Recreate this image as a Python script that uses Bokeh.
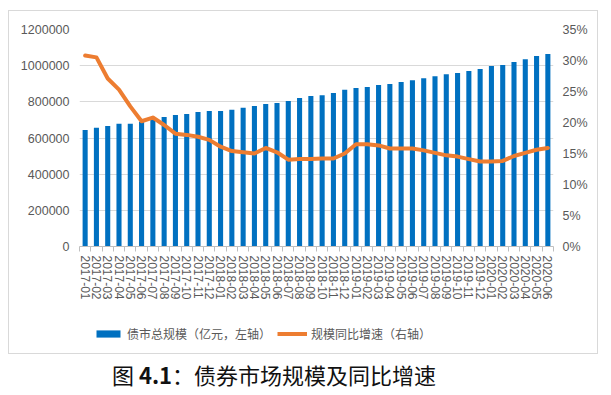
import numpy as np
from bokeh.plotting import figure
from bokeh.models import (Range1d, LinearAxis, FixedTicker, PrintfTickFormatter,
                          Legend, LegendItem, Div, ColumnDataSource)
from bokeh.layouts import column
from bokeh.embed import file_html
from bokeh.resources import INLINE

months = ["2017-01", "2017-02", "2017-03", "2017-04", "2017-05", "2017-06", "2017-07",
          "2017-08", "2017-09", "2017-10", "2017-11", "2017-12",
          "2018-01", "2018-02", "2018-03", "2018-04", "2018-05", "2018-06", "2018-07",
          "2018-08", "2018-09", "2018-10", "2018-11", "2018-12",
          "2019-01", "2019-02", "2019-03", "2019-04", "2019-05", "2019-06", "2019-07",
          "2019-08", "2019-09", "2019-10", "2019-11", "2019-12",
          "2020-01", "2020-02", "2020-03", "2020-04", "2020-05", "2020-06"]

bond_scale = [644000, 657000, 666000, 679000, 679000, 690000, 702000, 716000, 727000, 733000,
              744000, 749000, 749000, 756000, 767000, 777000, 788000, 793000, 804000, 821000,
              832000, 837000, 849000, 867000, 876000, 882000, 893000, 898000, 909000, 920000,
              931000, 942000, 953000, 959000, 970000, 981000, 998000, 1003000, 1020000, 1036000,
              1053000, 1064000]

growth_pct = [30.8, 30.5, 27.1, 25.3, 22.6, 20.2, 20.8, 19.6, 18.2, 18.0,
              17.7, 17.2, 16.1, 15.4, 15.2, 15.0, 15.9, 15.2, 14.0, 14.1,
              14.1, 14.2, 14.2, 15.0, 16.5, 16.5, 16.3, 15.8, 15.8, 15.8,
              15.5, 15.1, 14.7, 14.5, 14.1, 13.7, 13.7, 13.8, 14.6, 15.1,
              15.6, 15.9]

left_ticks = [0, 200000, 400000, 600000, 800000, 1000000, 1200000]
right_ticks = [0, 5, 10, 15, 20, 25, 30, 35]

bar_label = "债市总规模（亿元，左轴）"
line_label = "规模同比增速（右轴）"
caption = "图 <b>4.1</b>：债券市场规模及同比增速"

xs = list(range(len(months)))
src = ColumnDataSource(dict(x=xs, scale=bond_scale, growth=growth_pct))

TXT = "#595959"
GRID = "#d9d9d9"
NUMFONT = "Liberation Sans"
BAR_COLOR = "#0070C0"
LINE_COLOR = "#ED7D31"

p = figure(width=588, height=299, output_backend="svg", toolbar_location=None,
           x_range=Range1d(-0.5, len(months) - 0.5), y_range=Range1d(0, 1200000),
           min_border_left=70, min_border_right=44, min_border_top=18, min_border_bottom=64)
p.outline_line_color = None
p.extra_y_ranges = {"pct": Range1d(0, 35)}

# x axis
xa = p.xaxis[0]
xa.ticker = FixedTicker(ticks=xs, minor_ticks=[i - 0.5 for i in range(len(months) + 1)])
xa.major_label_overrides = {i: m for i, m in enumerate(months)}
xa.major_label_orientation = "vertical"
xa.major_tick_line_color = None
xa.major_tick_out = 2
xa.major_tick_in = 0
xa.minor_tick_out = 5
xa.minor_tick_in = 0
xa.minor_tick_line_color = "#bfbfbf"
xa.axis_line_color = "#bfbfbf"
xa.major_label_text_color = TXT
xa.major_label_text_font = NUMFONT
xa.major_label_text_font_size = "12px"
xa.major_label_standoff = 4

# left axis
ya = p.yaxis[0]
ya.ticker = FixedTicker(ticks=left_ticks)
ya.formatter = PrintfTickFormatter(format="%d")
ya.axis_line_color = None
ya.major_tick_line_color = None
ya.minor_tick_line_color = None
ya.major_tick_out = 0
ya.major_label_standoff = 10
ya.major_label_text_color = TXT
ya.major_label_text_font = NUMFONT
ya.major_label_text_font_size = "12.5px"

# right axis
ra = LinearAxis(y_range_name="pct", ticker=FixedTicker(ticks=right_ticks),
                formatter=PrintfTickFormatter(format="%d%%"))
ra.axis_line_color = None
ra.major_tick_line_color = None
ra.minor_tick_line_color = None
ra.major_tick_out = 0
ra.major_label_standoff = 9
ra.major_label_text_color = TXT
ra.major_label_text_font = NUMFONT
ra.major_label_text_font_size = "12.5px"
p.add_layout(ra, "right")

p.xgrid.visible = False
p.ygrid.grid_line_color = GRID
p.ygrid.grid_line_width = 1

p.vbar(x="x", top="scale", width=0.45, fill_color=BAR_COLOR, line_color=None, source=src)
p.line(x="x", y="growth", y_range_name="pct", line_color=LINE_COLOR, line_width=4,
       line_join="round", line_cap="round", source=src)

# legend strip (separate small figure so the legend is not clipped by the chart frame);
# its stand-in renderers hold a single NaN so they draw nothing but still give swatches
lf = figure(width=588, height=43, output_backend="svg", toolbar_location=None,
            x_range=Range1d(0, 1), y_range=Range1d(0, 1),
            min_border=0, x_axis_type=None, y_axis_type=None)
lf.outline_line_color = None
lf.xgrid.visible = False
lf.ygrid.visible = False
blank = ColumnDataSource(dict(x=np.array([np.nan]), top=np.array([np.nan]), y=np.array([np.nan])))
lb = lf.vbar(x="x", top="top", width=0.45, fill_color=BAR_COLOR, line_color=None, source=blank)
ll = lf.line(x="x", y="y", line_color=LINE_COLOR, line_width=4, source=blank)
legend = Legend(items=[LegendItem(label=bar_label, renderers=[lb]),
                       LegendItem(label=line_label, renderers=[ll])],
                orientation="horizontal", location=(14, 11),
                label_text_font="Noto Sans CJK SC", label_text_font_size="12px",
                label_text_color=TXT, glyph_width=30, glyph_height=9,
                label_standoff=4, spacing=6, padding=4, margin=0,
                border_line_color=None, background_fill_alpha=0)
lf.add_layout(legend, "center")

box = column(p, lf, spacing=0, styles={"border": "1px solid #d9d9d9"}, margin=(10, 0, 0, 8))

div = Div(text=caption, width=590, height=34,
          styles={"font-family": "Noto Sans CJK SC", "font-size": "22px", "color": "#111111",
                  "padding-top": "2px", "padding-left": "107px", "line-height": "26px"})

layout = column(box, div, spacing=0)
open("out.html", "w").write(file_html(layout, INLINE))
